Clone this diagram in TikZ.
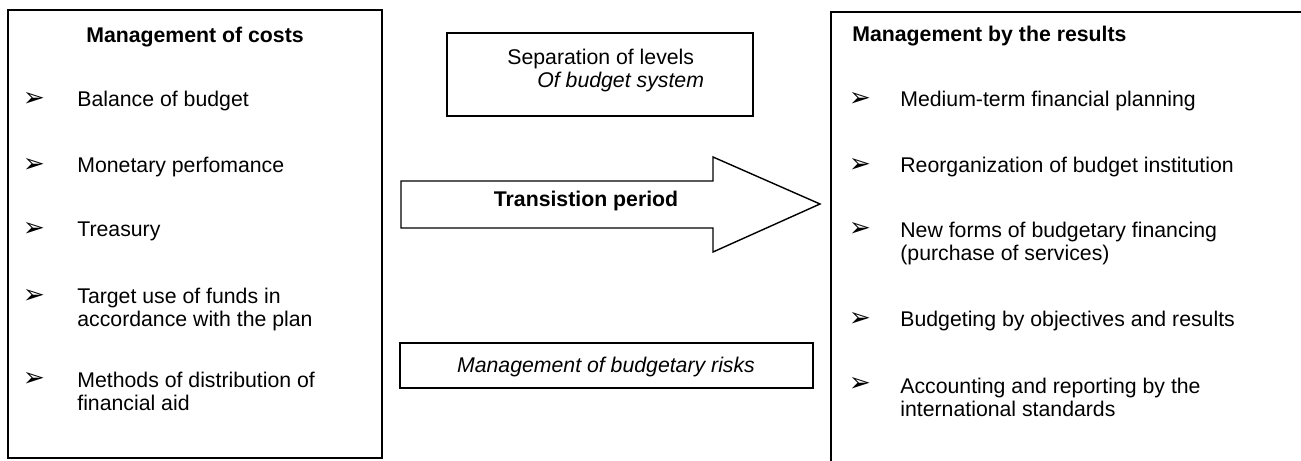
\documentclass[tikz,border=0pt]{standalone}
\usepackage{fontspec}
\setmainfont{Liberation Sans}
\newfontfamily\dingfont{DejaVu Sans}
\begin{document}
\begin{tikzpicture}[
    txt/.style={font=\fontsize{12.1pt}{13.6pt}\selectfont, inner sep=0pt},
    bold txt/.style={txt, font=\fontsize{12.1pt}{13.6pt}\selectfont\bfseries},
    slant txt/.style={txt, font=\fontsize{12.1pt}{13.6pt}\selectfont\itshape},
    bul/.style={font=\dingfont\fontsize{15pt}{16pt}\selectfont, inner sep=0pt, anchor=base},
    frame/.style={line width=1pt}]
    \useasboundingbox (0,0) rectangle (26.02,9.22);
    \clip (0,0) rectangle (26.02,9.22);
    % the two columns
    \draw[frame] (0.16,0.06) rectangle (7.64,9.02);
    \draw[frame] (16.62,-0.5) rectangle (26.6,8.98);
    % middle boxes and the big arrow
    \draw[frame] (8.94,6.90) rectangle (15.06,8.56);
    \draw[frame] (8.00,1.46) rectangle (16.26,2.36);
    \draw[line width=0.8pt] (8.02,4.66) -- (8.02,5.60) -- (14.26,5.60) -- (14.26,6.08)
        -- (16.40,5.14) -- (14.26,4.18) -- (14.26,4.66) -- cycle;
	\node[bold txt,anchor=base] (costs) at (3.90,8.36) {Management of costs};
	\node[bold txt,anchor=base west] (results) at (17.04,8.38) {Management by the results};
	\node[txt,anchor=base west,align=left] (levels) at (10.14,7.46) {Separation of levels\\\hspace*{0.6cm}\textit{Of budget system}};
	\node[bold txt,anchor=base] (period) at (11.72,5.08) {Transistion period};
	\node[slant txt,anchor=base] (risks) at (12.12,1.76) {Management of budgetary risks};
    % left list
	\node[bul] (b1) at (0.68,7.08) {➢};
	\node[bul] (b2) at (0.68,5.76) {➢};
	\node[bul] (b3) at (0.68,4.48) {➢};
	\node[bul] (b4) at (0.68,3.14) {➢};
	\node[bul] (b5) at (0.68,1.48) {➢};
	\node[txt,anchor=base west] (balance) at (1.54,7.08) {Balance of budget};
	\node[txt,anchor=base west] (monetary) at (1.54,5.76) {Monetary perfomance};
	\node[txt,anchor=base west] (treasury) at (1.54,4.48) {Treasury};
	\node[txt,anchor=base west,align=left] (target) at (1.54,2.68) {Target use of funds in\\accordance with the plan};
	\node[txt,anchor=base west,align=left] (methods) at (1.54,1.00) {Methods of distribution of\\financial aid};
    % right list
	\node[bul] (r1) at (17.20,7.08) {➢};
	\node[bul] (r2) at (17.20,5.76) {➢};
	\node[bul] (r3) at (17.20,4.48) {➢};
	\node[bul] (r4) at (17.20,2.68) {➢};
	\node[bul] (r5) at (17.20,1.38) {➢};
	\node[txt,anchor=base west] (medium) at (18.00,7.08) {Medium-term financial planning};
	\node[txt,anchor=base west] (reorg) at (18.00,5.76) {Reorganization of budget institution};
	\node[txt,anchor=base west,align=left] (forms) at (18.00,4.00) {New forms of budgetary financing\\(purchase of services)};
	\node[txt,anchor=base west] (objectives) at (18.00,2.68) {Budgeting by objectives and results};
	\node[txt,anchor=base west,align=left] (standards) at (18.00,0.88) {Accounting and reporting by the\\international standards};
\end{tikzpicture}
\end{document}
